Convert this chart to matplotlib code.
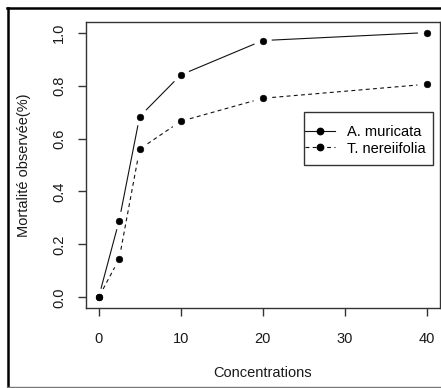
import numpy as np
import matplotlib
matplotlib.use('Agg')
import matplotlib.pyplot as plt
from matplotlib.lines import Line2D
from matplotlib.patches import Rectangle

#%% Data
concentrations = [0, 2.5, 5, 10, 20, 40]
muricata = [0.0, 0.29, 0.683, 0.84, 0.97, 1.0]
nereiifolia = [0.0, 0.145, 0.56, 0.665, 0.752, 0.805]
series_names = ['A. muricata', 'T. nereiifolia']
x_ticks = [0, 10, 20, 30, 40]
y_ticks = [0.0, 0.2, 0.4, 0.6, 0.8, 1.0]

plt.rcParams['font.family'] = ['Liberation Sans', 'DejaVu Sans']

W, H = 441, 388
fig = plt.figure(figsize=(W / 100, H / 100), dpi=100)

# axes box in pixels (left, top, right, bottom)
L, T, R, B = 85.5, 22, 440, 308
ax = fig.add_axes([L / W, 1 - B / H, (R - L) / W, (B - T) / H])
ax.set_xlim(-1.6, 41.6)
ax.set_ylim(-0.04, 1.04)

frame_col = '#333333'
for s in ax.spines.values():
    s.set_color(frame_col)
    s.set_linewidth(1.0)

ax.set_xticks(x_ticks)
ax.set_yticks(y_ticks)
ax.set_yticklabels(['%.1f' % v for v in y_ticks], rotation=90, va='center')
ax.tick_params(direction='out', length=6, width=1, color=frame_col,
               labelsize=10.5, labelcolor='#1a1a1a')
ax.tick_params(axis='x', pad=11)
ax.tick_params(axis='y', pad=8)


def gapped(ax, xs, ys, gap_px, **kw):
    # R type="b": segments stop short of each point
    pts = ax.transData.transform(np.column_stack([xs, ys]))
    inv = ax.transData.inverted()
    for p0, p1 in zip(pts[:-1], pts[1:]):
        d = p1 - p0
        n = np.hypot(*d)
        if n <= 2 * gap_px:
            continue
        u = d / n
        a = inv.transform(p0 + u * gap_px)
        b = inv.transform(p1 - u * gap_px)
        ax.plot([a[0], b[0]], [a[1], b[1]], **kw)


fig.canvas.draw()
line_col = '#111111'
gapped(ax, concentrations, muricata, 9.5, color=line_col, lw=0.8, ls='-')
gapped(ax, concentrations, nereiifolia, 9.5, color=line_col, lw=0.8,
       dashes=(3.5, 3))
ax.plot(concentrations, muricata, 'o', color='black', ms=4.8, mew=0.4, ls='none')
ax.plot(concentrations, nereiifolia, 'o', color='black', ms=4.8, mew=0.4, ls='none')

# legend box drawn by hand (R legend: tight at the sides, roomy top and bottom)
box = Rectangle((304 / W, 1 - 165 / H), (433 - 304) / W, (165 - 112) / H,
                transform=fig.transFigure, facecolor='white',
                edgecolor=frame_col, lw=1.0, zorder=4, clip_on=False)
ax.add_artist(box)
handles = [
    Line2D([0], [0], color=line_col, lw=0.8, marker='o', ms=4.6, mfc='black', mec='black'),
    Line2D([0], [0], color=line_col, lw=0.8, dashes=(3.5, 3), marker='o', ms=4.6,
           mfc='black', mec='black'),
]
leg = ax.legend(handles, series_names, loc='center left',
                bbox_to_anchor=(305 / W, 1 - 140.5 / H), bbox_transform=fig.transFigure,
                fontsize=10.5, frameon=False, handlelength=2.05, handletextpad=0.8,
                borderpad=0, labelspacing=0.15, borderaxespad=0)
leg.set_zorder(5)

fig.text((L + R) / 2 / W, 1 - 373 / H, 'Concentrations', ha='center', va='center',
         fontsize=10.5, color='#1a1a1a')
fig.text(24 / W, 1 - (T + B) / 2 / H, 'Mortalité observée(%)', ha='center', va='center',
         rotation=90, fontsize=10.5, color='#1a1a1a')

# outer border of the figure
fig.add_artist(Line2D([8 / W, 8 / W], [1 - 7.5 / H, 1 - 386.5 / H], color='black', lw=1.8,
                      transform=fig.transFigure))
fig.add_artist(Line2D([7 / W, 1], [1 - 8 / H, 1 - 8 / H], color='black', lw=1.8,
                      transform=fig.transFigure))
fig.add_artist(Line2D([7 / W, 1], [1 - 386.5 / H, 1 - 386.5 / H], color='#777777', lw=1.0,
                      transform=fig.transFigure))

fig.savefig('out.png', dpi=100)
